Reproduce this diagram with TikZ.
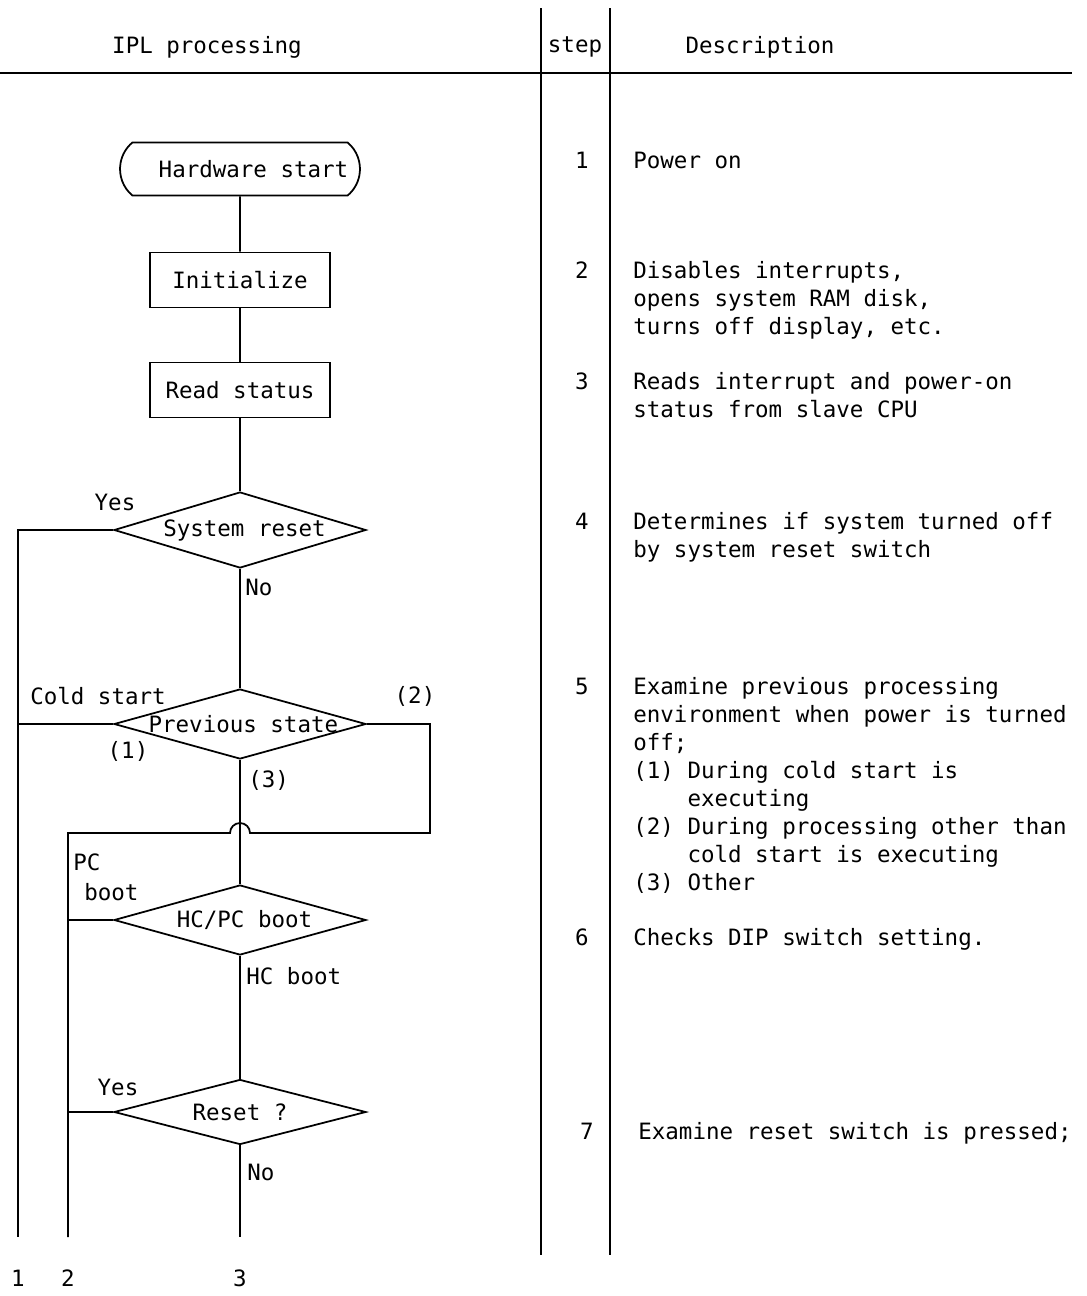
\documentclass[tikz,border=0pt]{standalone}
\usepackage{fontspec}
\setmonofont{DejaVu Sans Mono}
\usepackage{tikz}
\usetikzlibrary{shapes.geometric, shapes.misc, positioning, calc}
\newcommand{\iplfont}{\ttfamily\fontsize{12.8pt}{15.9pt}\selectfont}
\tikzset{
  iplbox/.style={
    draw, line width=1pt, font=\iplfont,
    minimum width=3.6cm, minimum height=1.1cm
  },
  iplterm/.style={
    rounded rectangle, rounded rectangle arc length=100,
    draw, line width=1pt, font=\iplfont, inner xsep=0pt,
    minimum width=4.8cm, minimum height=1.06cm
  },
  ipldecide/.style={
    diamond, draw, line width=1pt, font=\iplfont, inner sep=0pt,
    minimum width=5.04cm, minimum height=1.4cm
  },
  iplline/.style={line width=1pt},
  ipllabel/.style={font=\iplfont, inner sep=0pt},
  stepnum/.style={font=\iplfont, inner sep=0pt, anchor=base},
  steptext/.style={font=\iplfont, inner sep=0pt, align=left, anchor=base west},
  tablerule/.style={line width=1pt},
}

\begin{document}
\begin{tikzpicture}[x=0.02cm, y=-0.02cm]
  \useasboundingbox (0,0) rectangle (1087,1296);

  % --- Table frame ---
  \node[ipllabel] (headipl) at (207,47) {IPL processing};
  \node[ipllabel] (headstep) at (575,47) {step};
  \node[ipllabel] (headdesc) at (760,47) {Description};

  \coordinate (ruleL) at (0,73);
  \coordinate (ruleR) at (1072,73);
  \coordinate (colAtop) at (541,8);
  \coordinate (colAbot) at (541,1255);
  \coordinate (colBtop) at (610,8);
  \coordinate (colBbot) at (610,1255);
  \draw[tablerule] (ruleL) -- (ruleR);
  \draw[tablerule] (colAtop) -- (colAbot);
  \draw[tablerule] (colBtop) -- (colBbot);

  % --- Flow chart ---
  \node[iplterm] (hwstart) at (240,169) {\hspace*{1.2em}Hardware start};
  \node[iplbox] (init) at (240,280) {Initialize};
  \node[iplbox] (rdstat) at (240,390) {Read status};
  \node[ipldecide, minimum height=1.52cm] (sysreset) at (240,530) {\makebox[0pt]{\hspace*{0.4em}System reset}};
  \node[ipldecide] (prevstate) at (240,724) {\makebox[0pt]{\hspace*{0.3em}Previous state}};
  \node[ipldecide] (hcpc) at (240,920) {\makebox[0pt]{\hspace*{0.4em}HC/PC boot}};
  \node[ipldecide, minimum height=1.3cm] (rst) at (240,1112) {\makebox[0pt]{Reset ?}};

  \coordinate (end1) at (18,1237);
  \coordinate (end2) at (68,1237);
  \coordinate (end3) at (240,1237);
  \coordinate (loop2) at (430,833);
  \coordinate (hopR) at (250,833);

  \draw[iplline] (hwstart) -- (init);
  \draw[iplline] (init) -- (rdstat);
  \draw[iplline] (rdstat) -- (sysreset);
  \draw[iplline] (sysreset) -- (prevstate);
  \draw[iplline] (prevstate) -- (hcpc);
  \draw[iplline] (hcpc) -- (rst);
  \draw[iplline] (rst) -- (end3);

  \draw[iplline] (sysreset.west) -| (end1);
  \draw[iplline] (prevstate.west) -- (prevstate.west -| end1);
  \draw[iplline] (prevstate.east) -| (loop2) -- (hopR)
    arc[start angle=0, end angle=180, radius=0.2cm] -| (end2);
  \draw[iplline] (hcpc.west) -- (hcpc.west -| end2);
  \draw[iplline] (rst.west) -- (rst.west -| end2);

  % branch labels
  \node[ipllabel] (yes1) at (115,502) {Yes};
  \node[ipllabel, anchor=west] (no1) at (245,587) {No};
  \node[ipllabel] (cold) at (98,696) {Cold start};
  \node[ipllabel] (br1) at (128,751) {(1)};
  \node[ipllabel] (br2) at (415,696) {(2)};
  \node[ipllabel, anchor=west] (br3) at (248,780) {(3)};
  \node[ipllabel, align=left, anchor=west] (pcboot) at (73,877) {PC\\[1pt]\hspace*{0.22cm}boot};
  \node[ipllabel, anchor=west] (hcboot) at (246,976) {HC boot};
  \node[ipllabel] (yes2) at (118,1087) {Yes};
  \node[ipllabel, anchor=west] (no2) at (247,1172) {No};

  \node[ipllabel] (out1) at (18,1278) {1};
  \node[ipllabel] (out2) at (68,1278) {2};
  \node[ipllabel] (out3) at (240,1278) {3};

  % --- Steps and descriptions (base = last line) ---
  \node[stepnum] (s1) at (582,168) {1};
  \node[steptext] (d1) at (633,168) {Power on};
  \node[stepnum] (s2) at (582,278) {2};
  \node[steptext] (d2) at (633,334) {Disables interrupts,\\opens system RAM disk,\\turns off display, etc.};
  \node[stepnum] (s3) at (582,389) {3};
  \node[steptext] (d3) at (633,417) {Reads interrupt and power-on\\status from slave CPU};
  \node[stepnum] (s4) at (582,529) {4};
  \node[steptext] (d4) at (633,557) {Determines if system turned off\\by system reset switch};
  \node[stepnum] (s5) at (582,694) {5};
  \node[steptext] (d5) at (633,890) {Examine previous processing\\environment when power is turned\\off;\\
    (1) During cold start is\\\phantom{(1) }executing\\
    (2) During processing other than\\\phantom{(2) }cold start is executing\\
    (3) Other};
  \node[stepnum] (s6) at (582,945) {6};
  \node[steptext] (d6) at (633,945) {Checks DIP switch setting.};
  \node[stepnum] (s7) at (587,1139) {7};
  \node[steptext] (d7) at (638,1139) {Examine reset switch is pressed;};
\end{tikzpicture}
\end{document}
